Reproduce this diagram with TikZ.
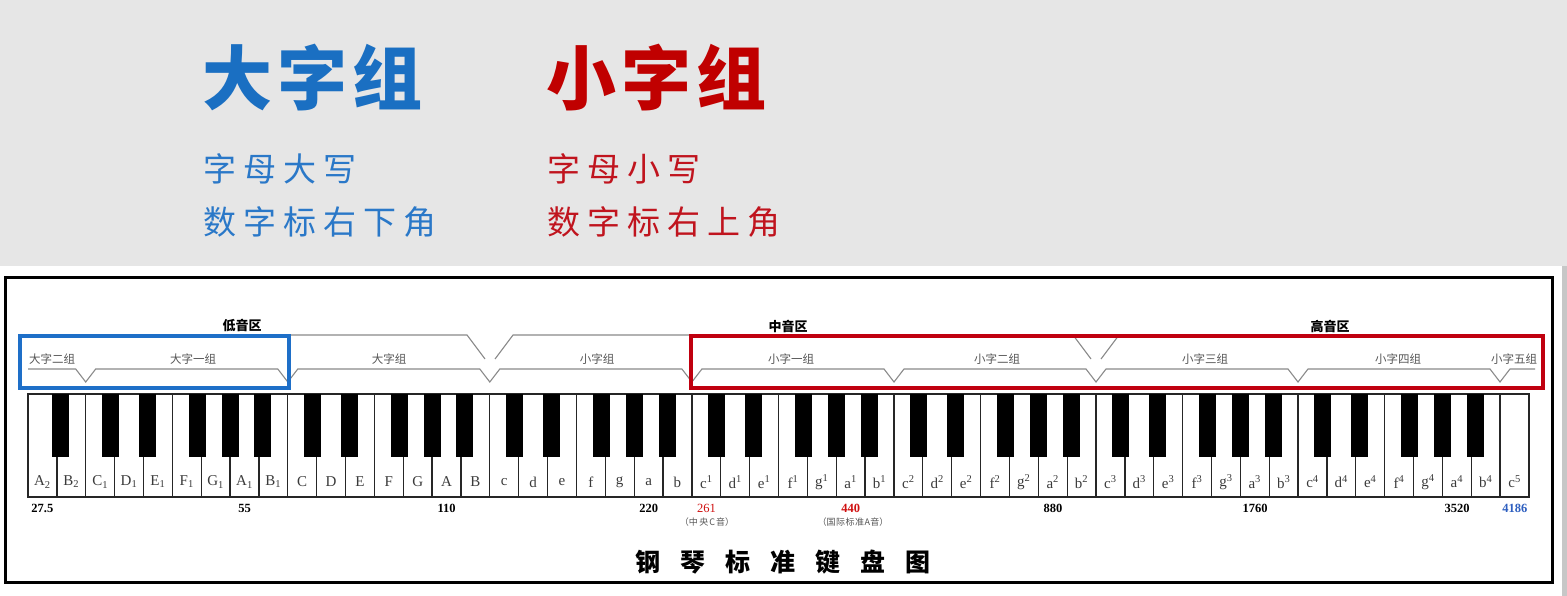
\documentclass[tikz,border=0pt]{standalone}
\usepackage{fontspec}
\setmainfont{Liberation Serif}
\newfontfamily\cjk{Noto Sans CJK SC}
\definecolor{bgray}{HTML}{E6E6E6}
\definecolor{tblue}{HTML}{1A6FC2}
\definecolor{tred}{HTML}{C00000}
\definecolor{sblue}{HTML}{2A78C8}
\definecolor{sred}{HTML}{C0141E}
\definecolor{boxblue}{HTML}{1E6FC8}
\definecolor{boxred}{HTML}{C0000F}
\definecolor{brk}{HTML}{8A8A8A}
\definecolor{notegray}{HTML}{3A3A3A}
\definecolor{grplab}{HTML}{555555}
\definecolor{fred}{HTML}{D01010}
\definecolor{fblue}{HTML}{2E5FC0}
\tikzset{
  whitekey/.style={draw=black!85, line width=1.3pt, fill=white},
  blackkey/.style={fill=black},
  notelab/.style={inner sep=0, text=notegray, font=\fontsize{15}{17}\selectfont},
  freqlab/.style={inner sep=0, font=\bfseries\fontsize{12.5}{14}\selectfont},
  grouplab/.style={inner sep=0, text=grplab, font=\cjk\fontsize{11.5}{13}\selectfont},
  reglab/.style={inner sep=0, font=\cjk\bfseries\fontsize{13}{15}\selectfont},
  notelabsmall/.style={inner sep=0, text=grplab, font=\cjk\fontsize{9}{11}\selectfont},
  bracketline/.style={draw=brk, line width=1.1pt},
  bigtitle/.style={inner sep=0, anchor=west, font=\cjk\bfseries\fontsize{70}{80}\selectfont},
  subtitle/.style={inner sep=0, anchor=west, font=\cjk\fontsize{33}{38}\selectfont},
}
\begin{document}
\begin{tikzpicture}[x=1pt,y=-1pt]
\useasboundingbox (0,0) rectangle (1567,596);
\fill[bgray] (0,0) rectangle (1567,596);
\fill[white] (0,266) rectangle (1562,596);
\fill[black!22] (1562,266) rectangle (1567,596);

% top texts
\node[bigtitle, text=tblue] (bigA) at (202,78) {大\hspace{5pt}字\hspace{5pt}组};
\node[bigtitle, text=tred] (bigB) at (546,78) {小\hspace{5pt}字\hspace{5pt}组};
\node[subtitle, text=sblue] (subA1) at (203,169) {字\hspace{7pt}母\hspace{7pt}大\hspace{7pt}写};
\node[subtitle, text=sblue] (subA2) at (203,222) {数\hspace{7pt}字\hspace{7pt}标\hspace{7pt}右\hspace{7pt}下\hspace{7pt}角};
\node[subtitle, text=sred] (subB1) at (547,169) {字\hspace{7pt}母\hspace{7pt}小\hspace{7pt}写};
\node[subtitle, text=sred] (subB2) at (547,222) {数\hspace{7pt}字\hspace{7pt}标\hspace{7pt}右\hspace{7pt}上\hspace{7pt}角};

% frame
\draw[line width=3pt] (5,278) rectangle (1552,582);

% register labels
\node[reglab] (low) at (242,326) {低音区};
\node[reglab] (mid) at (788,326) {中音区};
\node[reglab] (high) at (1330,326) {高音区};

% upper brackets
\draw[bracketline] (20,335) -- (467,335) -- (485,359);
\draw[bracketline] (495,359) -- (513,335) -- (1073,335) -- (1091,359);
\draw[bracketline] (1101,359) -- (1119,335) -- (1540,335);

% lower brackets
\draw[bracketline] (28,369)
  -- (75.7,369) -- (85.7,382) -- (95.7,369)
  -- (277.8,369) -- (287.8,382) -- (297.8,369)
  -- (479.8,369) -- (489.8,382) -- (499.8,369)
  -- (681.9,369) -- (691.9,382) -- (701.9,369)
  -- (884,369) -- (894,382) -- (904,369)
  -- (1086,369) -- (1096,382) -- (1106,369)
  -- (1288,369) -- (1298,382) -- (1308,369)
  -- (1490,369) -- (1500,382) -- (1510,369)
  -- (1535,369);

% group labels
\node[grouplab] (g1) at (52,359) {大字二组};
\node[grouplab] (g2) at (193,359) {大字一组};
\node[grouplab] (g3) at (389,359) {大字组};
\node[grouplab] (g4) at (597,359) {小字组};
\node[grouplab] (g5) at (791,359) {小字一组};
\node[grouplab] (g6) at (997,359) {小字二组};
\node[grouplab] (g7) at (1205,359) {小字三组};
\node[grouplab] (g8) at (1398,359) {小字四组};
\node[grouplab] (g9) at (1514,359) {小字五组};

% coloured boxes
\draw[boxblue, line width=3.5pt] (20,336) rectangle (289,388);
\draw[boxred, line width=3.5pt] (691,336) rectangle (1543,388);

% white keys
\foreach \i in {0,...,51}
  \draw[whitekey] ({28+\i*28.865},394) rectangle ({28+(\i+1)*28.865},497);
% black keys
\foreach \i in {0,...,50} {
  \pgfmathtruncatemacro\m{mod(\i,7)}
  \ifnum\m=1\else\ifnum\m=4\else
    \pgfmathsetmacro\off{(\m==0||\m==3)?4:((\m==2||\m==5)?-4:0)}
    \fill[blackkey] ({28+(\i+1)*28.865+\off-8.5},394) rectangle ++(17,63);
  \fi\fi
}

% note labels
\foreach \lab [count=\i from 0] in {A\textsubscript{2},B\textsubscript{2},C\textsubscript{1},D\textsubscript{1},E\textsubscript{1},F\textsubscript{1},G\textsubscript{1},A\textsubscript{1},B\textsubscript{1},C,D,E,F,G,A,B,c,d,e,f,g,a,b,c\textsuperscript{1},d\textsuperscript{1},e\textsuperscript{1},f\textsuperscript{1},g\textsuperscript{1},a\textsuperscript{1},b\textsuperscript{1},c\textsuperscript{2},d\textsuperscript{2},e\textsuperscript{2},f\textsuperscript{2},g\textsuperscript{2},a\textsuperscript{2},b\textsuperscript{2},c\textsuperscript{3},d\textsuperscript{3},e\textsuperscript{3},f\textsuperscript{3},g\textsuperscript{3},a\textsuperscript{3},b\textsuperscript{3},c\textsuperscript{4},d\textsuperscript{4},e\textsuperscript{4},f\textsuperscript{4},g\textsuperscript{4},a\textsuperscript{4},b\textsuperscript{4},c\textsuperscript{5}}
  \node[notelab] (n\i) at ({28+(\i+0.5)*28.865},482) {\lab};

% frequencies
\node[freqlab] (f1) at (42.4,508) {27.5};
\node[freqlab] (f2) at (244.5,508) {55};
\node[freqlab] (f3) at (446.6,508) {110};
\node[freqlab] (f4) at (648.7,508) {220};
\node[freqlab, text=fred, font=\fontsize{12.5}{14}\selectfont] (f5) at (706.4,508) {261};
\node[freqlab, text=fred] (f6) at (850.8,508) {440};
\node[freqlab] (f7) at (1052.9,508) {880};
\node[freqlab] (f8) at (1255,508) {1760};
\node[freqlab] (f9) at (1457,508) {3520};
\node[freqlab, text=fblue] (f10) at (1514.8,508) {4186};
\node[notelabsmall] (mc) at (707,522) {（中\hspace{1.5pt}央\hspace{1pt}C\hspace{1pt}音）};
\node[notelabsmall] (sa) at (853,522) {（国\hspace{0.5pt}际\hspace{0.5pt}标\hspace{0.5pt}准\hspace{0.5pt}A\hspace{0.5pt}音）};

% title
\node[inner sep=0, font=\cjk\bfseries\fontsize{25}{28}\selectfont] (title) at (783,562)
  {钢\hspace{20pt}琴\hspace{20pt}标\hspace{20pt}准\hspace{20pt}键\hspace{20pt}盘\hspace{20pt}图};
\end{tikzpicture}
\end{document}
